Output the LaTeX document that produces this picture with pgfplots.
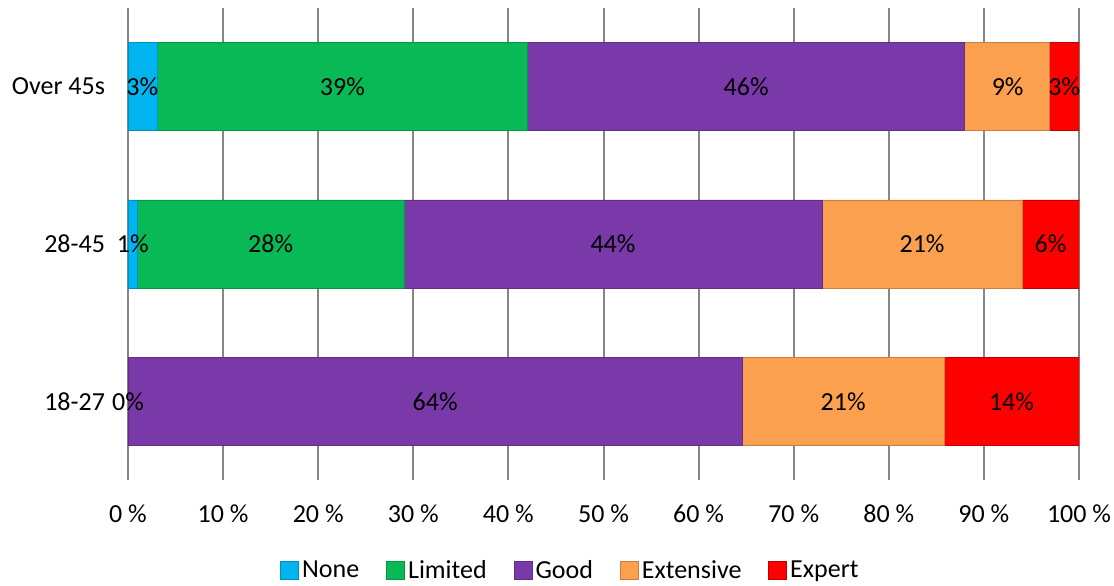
\documentclass[border=0pt]{standalone}
\usepackage{pgfplots}
\pgfplotsset{compat=1.18}
\usepackage{fontspec}
\setmainfont{Carlito}
\definecolor{cNone}{RGB}{0,180,240}
\definecolor{cLim}{RGB}{9,185,86}
\definecolor{cGood}{RGB}{121,57,168}
\definecolor{cExt}{RGB}{251,160,78}
\definecolor{cExp}{RGB}{255,0,0}
\definecolor{gridc}{RGB}{134,134,134}
\newcommand{\cf}{\fontsize{13}{15}\selectfont}
\pgfplotsset{
  base/.style={
    scale only axis, width=475.5pt, height=236pt,
    xmin=0, xmax=100, ymin=-0.5, ymax=2.5,
  }
}
\begin{document}
\begin{tikzpicture}
\begin{axis}[base,
  xbar stacked, bar width=0.56,
  xmajorgrids, grid style={gridc, line width=1pt},
  axis line style={draw=none},
  xtick={0,10,...,100},
  xticklabels={0 \%,10 \%,20 \%,30 \%,40 \%,50 \%,60 \%,70 \%,80 \%,90 \%,100 \%},
  ytick={0,1,2}, yticklabels={18-27,28-45,Over 45s},
  major tick length=0pt,
  xticklabel style={font=\cf, yshift=-9pt},
  yticklabel style={font=\cf, anchor=east, xshift=-8pt},
  legend style={draw=none, fill=none, font=\cf, legend columns=-1,
    at={(0.4658,-0.1928)}, anchor=center,
    /tikz/every even column/.append style={column sep=12pt},
    nodes={inner sep=1.5pt}},
  legend image code/.code={\draw[#1] (0pt,-4pt) rectangle (9pt,5pt);},
]
\addplot[fill=cNone, draw=cNone!80!black, line width=0.4pt] coordinates {(0,0) (0.95,1) (3.05,2)};
\addplot[fill=cLim, draw=cLim!80!black, line width=0.4pt] coordinates {(0,0) (28.15,1) (39.0,2)};
\addplot[fill=cGood, draw=cGood!80!black, line width=0.4pt] coordinates {(64.6,0) (43.9,1) (45.95,2)};
\addplot[fill=cExt, draw=cExt!80!black, line width=0.4pt] coordinates {(21.2,0) (21.0,1) (8.9,2)};
\addplot[fill=cExp, draw=cExp!75!black, line width=0.4pt] coordinates {(14.2,0) (6.0,1) (3.1,2)};
\legend{None,Limited,Good,Extensive,Expert}
\coordinate (bbll) at (rel axis cs:-0.1346,-0.2225);
\coordinate (bbur) at (rel axis cs:1.0368,1.0169);
\end{axis}
\begin{axis}[base, hide axis]
\addplot[draw=none, mark=none, nodes near coords, point meta=explicit symbolic,
  nodes near coords style={anchor=center, font=\cf, text=black, inner sep=0pt}]
  table[x=x, y=y, meta=lab] {
x y lab
1.5 2 3\%
22.55 2 39\%
65.0 2 46\%
92.5 2 9\%
98.45 2 3\%
0.5 1 1\%
15.0 1 28\%
51.0 1 44\%
83.5 1 21\%
97.0 1 6\%
0.0 0 0\%
32.3 0 64\%
75.2 0 21\%
92.9 0 14\%
};
\end{axis}
\pgfresetboundingbox
\useasboundingbox (bbll) rectangle (bbur);
\end{tikzpicture}
\end{document}
